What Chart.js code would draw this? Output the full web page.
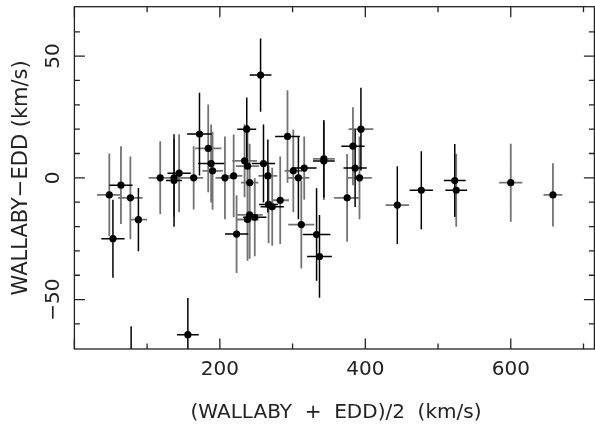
<!DOCTYPE html>
<html><head><meta charset="utf-8">
<script src="https://cdn.jsdelivr.net/npm/chart.js@4/dist/chart.umd.min.js"></script>
<style>html,body{margin:0;padding:0;overflow:hidden;background:#fff}canvas{display:block}</style>
</head><body>
<canvas id="c" width="598" height="428"></canvas>
<script>
// ---- data ----
const xValues = [48,64,77,88,53,78,118,137,137,144,164,156,172,184,188,190,207,219,223,234,237,238,241,241,238,248,256,260,266,267,272,283,293,301,308,316,312,333,337,343,343,375,383,386,392,394,444,477,523,525,600,658];
const yValues = [-7,-3,-8.2,-17.2,-25,-80,0,0,-1.1,1.9,0,-64.4,18,12.1,5.9,2.9,0,0.8,-23.1,7,20,4.8,-2,-15.2,-17.1,-16.2,42.2,5.9,0.8,-10.9,-11.9,-9.2,17,2.9,0,4,-19.2,-23.3,-32.3,7.8,6.9,-8.2,13,4,0,20,-11.2,-5.1,-1.1,-5.1,-2,-7];
const xErrors = [17,16,17,12,16,12,16,14,11,16,13,15,17,18,18,14,13,12,16,17,13,16,12,18,15,16,15,16,13,13,16,12,17,12,15,17,18,19,17,15,15,18,16,16,17,17,16,16,15,15,16,13];
const yErrors = [17,16,17,13,16,19,15,16,19,16,13,15,17,18,16,16,17,17,16,15,13,17,16,18,17,16,15,16,15,16,16,18,19,17,17,13,18,19,17,16,16,18,16,16,17,17,16,16,15,15,16,13];
// 1 = grey bar, 0 = black bar
const xBarGrey = [1,0,1,1,0,0,1,1,0,0,1,0,0,1,0,1,1,1,0,1,0,1,1,1,1,0,0,0,1,0,0,1,0,1,1,0,1,0,0,1,0,1,0,0,1,1,1,0,0,0,1,1];
const yBarGrey = [1,1,1,0,0,0,1,1,0,1,1,0,0,1,1,1,1,1,1,1,0,1,1,1,1,1,0,0,0,1,1,1,1,1,0,1,1,0,0,0,1,1,1,0,1,0,0,0,0,1,1,1];
const xMajorTicks = [0,200,400,600];
const xMinorTicks = [100,300,500,700];
const xTickLabels = ['200','400','600'];
const xLabelValues = [200,400,600];
const yMajorTicks = [-50,0,50];
const yMinorTicks = [-60,-40,-30,-20,-10,10,20,30,40,60];
const yTickLabels = ['\u221250','0','50'];
const yLabelValues = [-50,0,50];
const xTitle = '(WALLABY  +  EDD)/2  (km/s)';
const yTitle = 'WALLABY\u2212EDD (km/s)';

const points = xValues.map((x,i)=>({x:x,y:yValues[i]}));

const errorBars = {
  id:'errorBars',
  beforeDatasetsDraw(chart){
    const {ctx, chartArea:a, scales:{x:sx,y:sy}} = chart;
    ctx.save();
    ctx.beginPath(); ctx.rect(a.left,a.top,a.right-a.left,a.bottom-a.top); ctx.clip();
    for (const pass of [1,0]) {
      ctx.strokeStyle = pass ? '#737373' : '#000';
      ctx.lineWidth = pass ? 1.8 : 1.5;
      ctx.beginPath();
      xValues.forEach((xv,i)=>{
        const px = sx.getPixelForValue(xv), py = sy.getPixelForValue(yValues[i]);
        if (xBarGrey[i]===pass){
          ctx.moveTo(sx.getPixelForValue(xv-xErrors[i]),py);
          ctx.lineTo(sx.getPixelForValue(xv+xErrors[i]),py);
        }
        if (yBarGrey[i]===pass){
          ctx.moveTo(px,sy.getPixelForValue(yValues[i]+yErrors[i]));
          ctx.lineTo(px,sy.getPixelForValue(yValues[i]-yErrors[i]));
        }
      });
      ctx.stroke();
    }
    ctx.restore();
  }
};

const frame = {
  id:'frame',
  afterDraw(chart){
    const {ctx, chartArea:a, scales:{x:sx,y:sy}} = chart;
    ctx.save();
    ctx.strokeStyle = '#222'; ctx.lineWidth = 1.3;
    ctx.strokeRect(a.left,a.top,a.right-a.left,a.bottom-a.top);
    const majL = 10.5, minL = 5.5;
    ctx.beginPath();
    const xt = (v,L)=>{const p=sx.getPixelForValue(v); ctx.moveTo(p,a.bottom); ctx.lineTo(p,a.bottom-L); ctx.moveTo(p,a.top); ctx.lineTo(p,a.top+L);};
    const yt = (v,L)=>{const p=sy.getPixelForValue(v); ctx.moveTo(a.left,p); ctx.lineTo(a.left+L,p); ctx.moveTo(a.right,p); ctx.lineTo(a.right-L,p);};
    xMajorTicks.forEach(v=>xt(v,majL)); xMinorTicks.forEach(v=>xt(v,minL));
    yMajorTicks.forEach(v=>yt(v,majL)); yMinorTicks.forEach(v=>yt(v,minL));
    ctx.stroke();
    ctx.fillStyle = '#222';
    ctx.font = '20px "DejaVu Sans"';
    ctx.textAlign = 'center'; ctx.textBaseline = 'middle';
    xLabelValues.forEach((v,i)=>ctx.fillText(xTickLabels[i], sx.getPixelForValue(v), 370));
    yLabelValues.forEach((v,i)=>{
      ctx.save(); ctx.translate(54, sy.getPixelForValue(v)); ctx.rotate(-Math.PI/2);
      ctx.fillText(yTickLabels[i],0,0); ctx.restore();
    });
    ctx.fillText(xTitle, 336, 413);
    ctx.save(); ctx.translate(22, (a.top+a.bottom)/2); ctx.rotate(-Math.PI/2);
    ctx.font = '21px "DejaVu Sans"';
    ctx.fillText(yTitle,0,0); ctx.restore();
    ctx.restore();
  }
};

new Chart(document.getElementById('c'), {
  type:'scatter',
  data:{datasets:[{data:points, pointRadius:3.6, pointHoverRadius:3.6, backgroundColor:'#000', borderWidth:0, clip:0}]},
  options:{
    responsive:false, animation:false, devicePixelRatio:1,
    layout:{padding:{left:74.4, right:0.5, top:6.7, bottom:79}},
    plugins:{legend:{display:false}, tooltip:{enabled:false}},
    scales:{
      x:{type:'linear', min:0, max:715, display:false},
      y:{type:'linear', min:-70.3, max:70.3, display:false}
    }
  },
  plugins:[errorBars, frame]
});
</script>
</body></html>
